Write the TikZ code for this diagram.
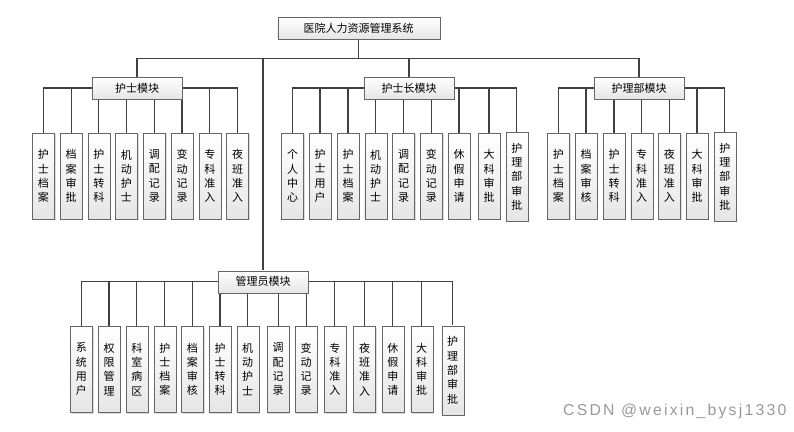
\documentclass[tikz,border=0pt]{standalone}
\usepackage{fontspec}
\setmainfont{Noto Sans CJK SC}
\newfontfamily\markfont[LetterSpace=14]{Liberation Sans}
\usepackage{tikz}
\usetikzlibrary{shadows,backgrounds}

\begin{document}
\begin{tikzpicture}[
x=1pt,
y=-1pt,
every node/.style={font=\fontsize{11}{14.3}\selectfont},
rbox/.style={rectangle,draw=gray!80!black,top color=white,bottom color=gray!20,drop shadow={shadow xshift=1.2pt,shadow yshift=-1.2pt,fill=gray!55},inner sep=0pt,align=center},
rroot/.style={rbox,minimum width=162pt,minimum height=22pt},
rmod/.style={rbox,minimum width=90pt,minimum height=22pt},
rleaf/.style={rbox,minimum width=22pt,minimum height=86pt},
rleafl/.style={rbox,minimum width=22pt,minimum height=89pt},
rline/.style={draw=black!75,line width=1.3pt},
rmark/.style={font=\markfont\fontsize{15.8}{18}\selectfont,text=black!40,inner sep=0pt}
]
\useasboundingbox (0,0) rectangle (794,431);

\node[rroot] (root) at (358.7,27.8) {医院人力资源管理系统};
\coordinate (trunk) at (358.7,58.7);

\node[rmod] (nmod) at (137,88) {护士模块};
\node[rmod] (hmod) at (409,88) {护士长模块};
\node[rmod] (pmod) at (639,88) {护理部模块};
\node[rmod] (amod) at (263,281.7) {管理员模块};

\node[rleaf] (n1) at (43.3,176) {护\\士\\档\\案};
\node[rleaf] (n2) at (71.2,176) {档\\案\\审\\批};
\node[rleaf] (n3) at (98.8,176) {护\\士\\转\\科};
\node[rleaf] (n4) at (126.3,176) {机\\动\\护\\士};
\node[rleaf] (n5) at (154.3,176) {调\\配\\记\\录};
\node[rleaf] (n6) at (182,176) {变\\动\\记\\录};
\node[rleaf] (n7) at (209.8,176) {专\\科\\准\\入};
\node[rleaf] (n8) at (237.5,176) {夜\\班\\准\\入};

\node[rleaf] (h1) at (292.5,176) {个\\人\\中\\心};
\node[rleaf] (h2) at (320,176) {护\\士\\用\\户};
\node[rleaf] (h3) at (348,176) {护\\士\\档\\案};
\node[rleaf] (h4) at (375.7,176) {机\\动\\护\\士};
\node[rleaf] (h5) at (403.5,176) {调\\配\\记\\录};
\node[rleaf] (h6) at (431.3,176) {变\\动\\记\\录};
\node[rleaf] (h7) at (459,176) {休\\假\\申\\请};
\node[rleaf] (h8) at (489,176) {大\\科\\审\\批};
\node[rleafl] (h9) at (516.8,176.5) {护\\理\\部\\审\\批};

\node[rleaf] (p1) at (558.3,176) {护\\士\\档\\案};
\node[rleaf] (p2) at (586,176) {档\\案\\审\\核};
\node[rleaf] (p3) at (614,176) {护\\士\\转\\科};
\node[rleaf] (p4) at (641.7,176) {专\\科\\准\\入};
\node[rleaf] (p5) at (669.3,176) {夜\\班\\准\\入};
\node[rleaf] (p6) at (697,176) {大\\科\\审\\批};
\node[rleafl] (p7) at (724.8,176.5) {护\\理\\部\\审\\批};

\node[rleaf] (a1) at (81.3,369.3) {系\\统\\用\\户};
\node[rleaf] (a2) at (109,369.3) {权\\限\\管\\理};
\node[rleaf] (a3) at (136.8,369.3) {科\\室\\病\\区};
\node[rleaf] (a4) at (164.8,369.3) {护\\士\\档\\案};
\node[rleaf] (a5) at (192.3,369.3) {档\\案\\审\\核};
\node[rleaf] (a6) at (220,369.3) {护\\士\\转\\科};
\node[rleaf] (a7) at (247.7,369.3) {机\\动\\护\\士};
\node[rleaf] (a8) at (278.2,369.3) {调\\配\\记\\录};
\node[rleaf] (a9) at (306.2,369.3) {变\\动\\记\\录};
\node[rleaf] (a10) at (334.8,369.3) {专\\科\\准\\入};
\node[rleaf] (a11) at (364.5,369.3) {夜\\班\\准\\入};
\node[rleaf] (a12) at (392.8,369.3) {休\\假\\申\\请};
\node[rleaf] (a13) at (421.7,369.3) {大\\科\\审\\批};
\node[rleafl] (a14) at (452.7,370.3) {护\\理\\部\\审\\批};

\node[rmark,anchor=base west] (mark) at (563,415.7) {CSDN @weixin\_bysj1330};

\begin{scope}[on background layer]
\draw[rline] (root) -- (trunk);
\draw[rline] (trunk) -| (nmod);
\draw[rline] (trunk) -| (hmod);
\draw[rline] (trunk) -| (pmod);
\draw[rline] (trunk) -| (amod);

\draw[rline] (nmod.center) -| (n1) (nmod.center) -| (n2) (nmod.center) -| (n3) (nmod.center) -| (n4);
\draw[rline] (nmod.center) -| (n5) (nmod.center) -| (n6) (nmod.center) -| (n7) (nmod.center) -| (n8);

\draw[rline] (hmod.center) -| (h1) (hmod.center) -| (h2) (hmod.center) -| (h3) (hmod.center) -| (h4) (hmod.center) -| (h5);
\draw[rline] (hmod.center) -| (h6) (hmod.center) -| (h7) (hmod.center) -| (h8) (hmod.center) -| (h9);

\draw[rline] (pmod.center) -| (p1) (pmod.center) -| (p2) (pmod.center) -| (p3) (pmod.center) -| (p4);
\draw[rline] (pmod.center) -| (p5) (pmod.center) -| (p6) (pmod.center) -| (p7);

\draw[rline] (amod.center) -| (a1) (amod.center) -| (a2) (amod.center) -| (a3) (amod.center) -| (a4) (amod.center) -| (a5);
\draw[rline] (amod.center) -| (a6) (amod.center) -| (a7) (amod.center) -| (a8) (amod.center) -| (a9) (amod.center) -| (a10);
\draw[rline] (amod.center) -| (a11) (amod.center) -| (a12) (amod.center) -| (a13) (amod.center) -| (a14);
\end{scope}
\end{tikzpicture}
\end{document}
